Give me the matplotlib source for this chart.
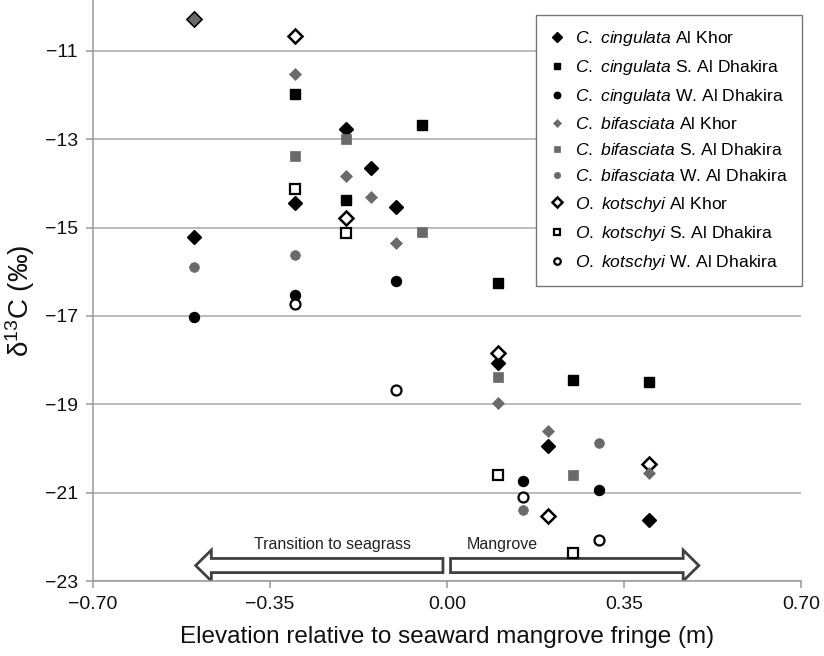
import matplotlib
matplotlib.use("Agg")
import matplotlib.pyplot as plt
from matplotlib.patches import FancyArrow
from matplotlib.ticker import FixedLocator, FuncFormatter

plt.rcParams['font.family'] = ['Liberation Sans', 'DejaVu Sans']
plt.rcParams['mathtext.fontset'] = 'custom'
plt.rcParams['mathtext.rm'] = 'Liberation Sans'
plt.rcParams['mathtext.it'] = 'Liberation Sans:italic'

# ---------------- data ----------------
cc_khor_x = [-0.50, -0.30, -0.20, -0.15, -0.10, 0.10, 0.20, 0.40]
cc_khor_y = [-15.22, -14.45, -12.78, -13.66, -14.53, -18.07, -19.94, -21.62]
cc_sdh_x = [-0.30, -0.20, -0.05, 0.10, 0.25, 0.40]
cc_sdh_y = [-11.97, -14.38, -12.68, -16.26, -18.45, -18.50]
cc_wdh_x = [-0.50, -0.30, -0.10, 0.15, 0.30]
cc_wdh_y = [-17.03, -16.53, -16.20, -20.74, -20.95]

cb_khor_x = [-0.50, -0.30, -0.20, -0.15, -0.10, 0.10, 0.20, 0.40]
cb_khor_y = [-10.29, -11.53, -13.83, -14.30, -15.34, -18.96, -19.60, -20.55]
cb_sdh_x = [-0.30, -0.20, -0.05, 0.10, 0.25]
cb_sdh_y = [-13.37, -13.00, -15.11, -18.39, -20.59]
cb_wdh_x = [-0.50, -0.30, 0.15, 0.30]
cb_wdh_y = [-15.89, -15.62, -21.39, -19.88]

ok_khor_x = [-0.50, -0.30, -0.20, 0.10, 0.20, 0.40]
ok_khor_y = [-10.29, -10.66, -14.78, -17.85, -21.53, -20.35]
ok_sdh_x = [-0.30, -0.20, 0.10, 0.25]
ok_sdh_y = [-14.13, -15.13, -20.60, -22.36]
ok_wdh_x = [-0.30, -0.10, 0.15, 0.30]
ok_wdh_y = [-16.72, -18.68, -21.10, -22.07]

x_ticks = [-0.70, -0.35, 0.00, 0.35, 0.70]
y_ticks = [-23, -21, -19, -17, -15, -13, -11]

labels = [
    r'$\it{C.\ cingulata}$ Al Khor',
    r'$\it{C.\ cingulata}$ S. Al Dhakira',
    r'$\it{C.\ cingulata}$ W. Al Dhakira',
    r'$\it{C.\ bifasciata}$ Al Khor',
    r'$\it{C.\ bifasciata}$ S. Al Dhakira',
    r'$\it{C.\ bifasciata}$ W. Al Dhakira',
    r'$\it{O.\ kotschyi}$ Al Khor',
    r'$\it{O.\ kotschyi}$ S. Al Dhakira',
    r'$\it{O.\ kotschyi}$ W. Al Dhakira',
]

# ---------------- figure ----------------
fig = plt.figure(figsize=(8.24, 6.56), dpi=100)
ax = fig.add_axes([93/824, 1 - 581/656, (801 - 93)/824, 581/656])

GRAY = '#6a6a6a'
GRID = '#a8a8a8'

for yv in y_ticks:
    ax.axhline(yv, color=GRID, lw=1.1, zorder=0)

series = [
    (cc_khor_x, cc_khor_y, dict(marker='D', ms=7.4, mfc='black', mec='black', mew=1.0), 3),
    (cc_sdh_x, cc_sdh_y, dict(marker='s', ms=7.2, mfc='black', mec='black', mew=1.0), 3),
    (cc_wdh_x, cc_wdh_y, dict(marker='o', ms=7.2, mfc='black', mec='black', mew=1.0), 3),
    (cb_khor_x, cb_khor_y, dict(marker='D', ms=6.6, mfc=GRAY, mec=GRAY, mew=0.5), 5),
    (cb_sdh_x, cb_sdh_y, dict(marker='s', ms=7.0, mfc=GRAY, mec=GRAY, mew=0.5), 3),
    (cb_wdh_x, cb_wdh_y, dict(marker='o', ms=7.0, mfc=GRAY, mec=GRAY, mew=0.5), 3),
    (ok_khor_x, ok_khor_y, dict(marker='D', ms=7.2, mfc='white', mec='black', mew=1.8), 4),
    (ok_sdh_x, ok_sdh_y, dict(marker='s', ms=7.2, mfc='white', mec='black', mew=1.6), 4),
    (ok_wdh_x, ok_wdh_y, dict(marker='o', ms=7.2, mfc='white', mec='black', mew=1.6), 4),
]

handles = []
for (xs, ys, style, z), lab in zip(series, labels):
    h, = ax.plot(xs, ys, ls='none', zorder=z, label=lab, **style)
    handles.append(h)

# arrows
arrow_y = -22.65
ax.add_patch(FancyArrow(-0.008, arrow_y, -0.458, 0, width=0.32, head_width=0.70,
                        head_length=0.031, length_includes_head=False,
                        fc='white', ec='#404040', lw=2.0, zorder=2))
ax.add_patch(FancyArrow(0.007, arrow_y, 0.460, 0, width=0.32, head_width=0.70,
                        head_length=0.031, length_includes_head=False,
                        fc='white', ec='#404040', lw=2.0, zorder=2))
ax.text(-0.226, -22.17, 'Transition to seagrass', ha='center', va='center',
        fontsize=11.5, color='#222222')
ax.text(0.11, -22.17, 'Mangrove', ha='center', va='center',
        fontsize=11.5, color='#222222')

ax.set_xlim(-0.70, 0.70)
ax.set_ylim(-23, -9.85)
ax.xaxis.set_major_locator(FixedLocator(x_ticks))
ax.yaxis.set_major_locator(FixedLocator(y_ticks))
ax.xaxis.set_major_formatter(FuncFormatter(lambda v, p: f'{v:.2f}'.replace('-', '\u2212')))
ax.yaxis.set_major_formatter(FuncFormatter(lambda v, p: f'{v:.0f}'.replace('-', '\u2212')))
ax.tick_params(axis='both', labelsize=14, color='#999999', length=5, width=1.1,
               labelcolor='#111111')
ax.tick_params(axis='x', pad=6)
ax.tick_params(axis='y', pad=6)

for s in ['top', 'right']:
    ax.spines[s].set_visible(False)
for s in ['left', 'bottom']:
    ax.spines[s].set_color('#999999')
    ax.spines[s].set_linewidth(1.1)

ax.set_xlabel('Elevation relative to seaward mangrove fringe (m)', fontsize=17.5,
              labelpad=9, color='#111111')
ax.set_ylabel('δ$^{13}$C (‰)', fontsize=20, color='#111111')
ax.yaxis.set_label_coords(-0.079, 0.482)

leg = ax.legend(handles=handles, loc='upper right',
                bbox_to_anchor=(802/824, 1 - 14.7/656), bbox_transform=fig.transFigure,
                fontsize=12.6, markerscale=0.65, frameon=True, fancybox=False,
                edgecolor='#777777', framealpha=1, borderpad=0.8,
                labelspacing=0.58, handlelength=0.8, handletextpad=0.6,
                borderaxespad=0)
leg.get_frame().set_linewidth(1.0)

fig.savefig('out.png', dpi=100)
